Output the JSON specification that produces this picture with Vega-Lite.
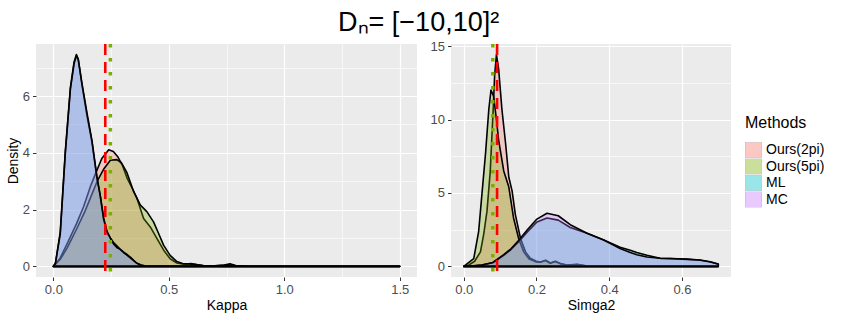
{
  "$schema": "https://vega.github.io/schema/vega-lite/v6.json",
  "background": "white",
  "padding": {"left": 6, "top": 9, "right": 5, "bottom": 4},
  "title": {"text": "Dₙ= [−10,10]²", "fontSize": 27, "font": "Liberation Sans", "fontWeight": "normal", "color": "black", "anchor": "middle", "offset": 3, "dx": 3},
  "config": {
    "font": "Liberation Sans",
    "view": {"fill": "#EBEBEB", "stroke": null},
    "concat": {"spacing": 13},
    "axis": {
      "domain": false,
      "grid": true,
      "gridColor": "white",
      "tickColor": "#333333",
      "tickSize": 3.5,
      "tickWidth": 1,
      "labelColor": "#4D4D4D",
      "labelFontSize": 13,
      "labelFont": "Liberation Sans",
      "labelPadding": 3,
      "titleFont": "Liberation Sans",
      "titleFontSize": 14,
      "titleFontWeight": "normal",
      "titleColor": "black",
      "titlePadding": 2
    },
    "legend": {
      "titleFontSize": 16,
      "titleFontWeight": "normal",
      "titleFont": "Liberation Sans",
      "titleColor": "black",
      "labelFontSize": 14,
      "labelFont": "Liberation Sans",
      "labelColor": "black",
      "symbolType": "square",
      "symbolSize": 256,
      "symbolStrokeColor": "#7a7a7a",
      "symbolStrokeWidth": 1,
      "symbolOpacity": 0.4,
      "rowPadding": 0.5,
      "clipHeight": 16,
      "titlePadding": 11
    }
  },
  "datasets": {
    "dens": [
      {"p":"Kappa","m":"Ours(2pi)","x":0,"y":0},
      {"p":"Kappa","m":"Ours(2pi)","x":0.016,"y":0.15},
      {"p":"Kappa","m":"Ours(2pi)","x":0.03,"y":0.3},
      {"p":"Kappa","m":"Ours(2pi)","x":0.06,"y":0.8},
      {"p":"Kappa","m":"Ours(2pi)","x":0.1,"y":1.5},
      {"p":"Kappa","m":"Ours(2pi)","x":0.131,"y":2.1},
      {"p":"Kappa","m":"Ours(2pi)","x":0.16,"y":2.8},
      {"p":"Kappa","m":"Ours(2pi)","x":0.182,"y":3.25},
      {"p":"Kappa","m":"Ours(2pi)","x":0.21,"y":3.8},
      {"p":"Kappa","m":"Ours(2pi)","x":0.24,"y":4.11},
      {"p":"Kappa","m":"Ours(2pi)","x":0.26,"y":4.05},
      {"p":"Kappa","m":"Ours(2pi)","x":0.28,"y":3.85},
      {"p":"Kappa","m":"Ours(2pi)","x":0.3,"y":3.55},
      {"p":"Kappa","m":"Ours(2pi)","x":0.32,"y":3.1},
      {"p":"Kappa","m":"Ours(2pi)","x":0.345,"y":2.7},
      {"p":"Kappa","m":"Ours(2pi)","x":0.362,"y":2.4},
      {"p":"Kappa","m":"Ours(2pi)","x":0.391,"y":1.69},
      {"p":"Kappa","m":"Ours(2pi)","x":0.42,"y":1.39},
      {"p":"Kappa","m":"Ours(2pi)","x":0.449,"y":0.98},
      {"p":"Kappa","m":"Ours(2pi)","x":0.478,"y":0.57},
      {"p":"Kappa","m":"Ours(2pi)","x":0.506,"y":0.27},
      {"p":"Kappa","m":"Ours(2pi)","x":0.535,"y":0.12},
      {"p":"Kappa","m":"Ours(2pi)","x":0.57,"y":0.07},
      {"p":"Kappa","m":"Ours(2pi)","x":0.595,"y":0.1},
      {"p":"Kappa","m":"Ours(2pi)","x":0.65,"y":0.02},
      {"p":"Kappa","m":"Ours(2pi)","x":0.7,"y":0.02},
      {"p":"Kappa","m":"Ours(2pi)","x":0.74,"y":0.05},
      {"p":"Kappa","m":"Ours(2pi)","x":0.765,"y":0.09},
      {"p":"Kappa","m":"Ours(2pi)","x":0.79,"y":0.03},
      {"p":"Kappa","m":"Ours(2pi)","x":0.85,"y":0},
      {"p":"Kappa","m":"Ours(2pi)","x":1.5,"y":0},

      {"p":"Kappa","m":"Ours(5pi)","x":0,"y":0},
      {"p":"Kappa","m":"Ours(5pi)","x":0.03,"y":0.25},
      {"p":"Kappa","m":"Ours(5pi)","x":0.06,"y":0.65},
      {"p":"Kappa","m":"Ours(5pi)","x":0.1,"y":1.3},
      {"p":"Kappa","m":"Ours(5pi)","x":0.135,"y":1.9},
      {"p":"Kappa","m":"Ours(5pi)","x":0.17,"y":2.6},
      {"p":"Kappa","m":"Ours(5pi)","x":0.19,"y":3.0},
      {"p":"Kappa","m":"Ours(5pi)","x":0.22,"y":3.45},
      {"p":"Kappa","m":"Ours(5pi)","x":0.247,"y":3.74},
      {"p":"Kappa","m":"Ours(5pi)","x":0.275,"y":3.76},
      {"p":"Kappa","m":"Ours(5pi)","x":0.295,"y":3.65},
      {"p":"Kappa","m":"Ours(5pi)","x":0.319,"y":3.3},
      {"p":"Kappa","m":"Ours(5pi)","x":0.348,"y":2.63},
      {"p":"Kappa","m":"Ours(5pi)","x":0.377,"y":2.16},
      {"p":"Kappa","m":"Ours(5pi)","x":0.405,"y":1.93},
      {"p":"Kappa","m":"Ours(5pi)","x":0.434,"y":1.57},
      {"p":"Kappa","m":"Ours(5pi)","x":0.456,"y":1.16},
      {"p":"Kappa","m":"Ours(5pi)","x":0.478,"y":0.74},
      {"p":"Kappa","m":"Ours(5pi)","x":0.506,"y":0.39},
      {"p":"Kappa","m":"Ours(5pi)","x":0.535,"y":0.17},
      {"p":"Kappa","m":"Ours(5pi)","x":0.56,"y":0.1},
      {"p":"Kappa","m":"Ours(5pi)","x":0.6,"y":0.08},
      {"p":"Kappa","m":"Ours(5pi)","x":0.65,"y":0.03},
      {"p":"Kappa","m":"Ours(5pi)","x":0.7,"y":0.02},
      {"p":"Kappa","m":"Ours(5pi)","x":0.76,"y":0.05},
      {"p":"Kappa","m":"Ours(5pi)","x":0.8,"y":0.01},
      {"p":"Kappa","m":"Ours(5pi)","x":0.85,"y":0},
      {"p":"Kappa","m":"Ours(5pi)","x":1.5,"y":0},

      {"p":"Kappa","m":"ML","x":0,"y":0},
      {"p":"Kappa","m":"ML","x":0.009,"y":0.1},
      {"p":"Kappa","m":"ML","x":0.03,"y":1.2},
      {"p":"Kappa","m":"ML","x":0.052,"y":4.05},
      {"p":"Kappa","m":"ML","x":0.074,"y":6.3},
      {"p":"Kappa","m":"ML","x":0.09,"y":7.2},
      {"p":"Kappa","m":"ML","x":0.1,"y":7.46},
      {"p":"Kappa","m":"ML","x":0.108,"y":7.3},
      {"p":"Kappa","m":"ML","x":0.124,"y":6.4},
      {"p":"Kappa","m":"ML","x":0.146,"y":5.3},
      {"p":"Kappa","m":"ML","x":0.167,"y":4.4},
      {"p":"Kappa","m":"ML","x":0.189,"y":3.1},
      {"p":"Kappa","m":"ML","x":0.203,"y":2.5},
      {"p":"Kappa","m":"ML","x":0.218,"y":1.65},
      {"p":"Kappa","m":"ML","x":0.232,"y":1.2},
      {"p":"Kappa","m":"ML","x":0.247,"y":1.0},
      {"p":"Kappa","m":"ML","x":0.26,"y":0.85},
      {"p":"Kappa","m":"ML","x":0.276,"y":0.72},
      {"p":"Kappa","m":"ML","x":0.29,"y":0.6},
      {"p":"Kappa","m":"ML","x":0.305,"y":0.5},
      {"p":"Kappa","m":"ML","x":0.319,"y":0.42},
      {"p":"Kappa","m":"ML","x":0.34,"y":0.28},
      {"p":"Kappa","m":"ML","x":0.36,"y":0.12},
      {"p":"Kappa","m":"ML","x":0.38,"y":0.05},
      {"p":"Kappa","m":"ML","x":0.4,"y":0.01},
      {"p":"Kappa","m":"ML","x":0.45,"y":0},
      {"p":"Kappa","m":"ML","x":1.5,"y":0},

      {"p":"Kappa","m":"MC","x":0,"y":0},
      {"p":"Kappa","m":"MC","x":0.009,"y":0.1},
      {"p":"Kappa","m":"MC","x":0.03,"y":1.15},
      {"p":"Kappa","m":"MC","x":0.052,"y":4.0},
      {"p":"Kappa","m":"MC","x":0.074,"y":6.25},
      {"p":"Kappa","m":"MC","x":0.09,"y":7.15},
      {"p":"Kappa","m":"MC","x":0.1,"y":7.42},
      {"p":"Kappa","m":"MC","x":0.108,"y":7.28},
      {"p":"Kappa","m":"MC","x":0.124,"y":6.45},
      {"p":"Kappa","m":"MC","x":0.146,"y":5.4},
      {"p":"Kappa","m":"MC","x":0.167,"y":4.45},
      {"p":"Kappa","m":"MC","x":0.189,"y":3.15},
      {"p":"Kappa","m":"MC","x":0.203,"y":2.5},
      {"p":"Kappa","m":"MC","x":0.218,"y":1.7},
      {"p":"Kappa","m":"MC","x":0.232,"y":1.25},
      {"p":"Kappa","m":"MC","x":0.247,"y":1.0},
      {"p":"Kappa","m":"MC","x":0.26,"y":0.8},
      {"p":"Kappa","m":"MC","x":0.276,"y":0.66},
      {"p":"Kappa","m":"MC","x":0.29,"y":0.6},
      {"p":"Kappa","m":"MC","x":0.305,"y":0.48},
      {"p":"Kappa","m":"MC","x":0.319,"y":0.4},
      {"p":"Kappa","m":"MC","x":0.34,"y":0.26},
      {"p":"Kappa","m":"MC","x":0.36,"y":0.12},
      {"p":"Kappa","m":"MC","x":0.38,"y":0.04},
      {"p":"Kappa","m":"MC","x":0.4,"y":0.01},
      {"p":"Kappa","m":"MC","x":0.45,"y":0},
      {"p":"Kappa","m":"MC","x":1.5,"y":0},

      {"p":"Simga2","m":"Ours(2pi)","x":0,"y":0},
      {"p":"Simga2","m":"Ours(2pi)","x":0.014,"y":0.1},
      {"p":"Simga2","m":"Ours(2pi)","x":0.03,"y":0.35},
      {"p":"Simga2","m":"Ours(2pi)","x":0.046,"y":0.99},
      {"p":"Simga2","m":"Ours(2pi)","x":0.055,"y":2.2},
      {"p":"Simga2","m":"Ours(2pi)","x":0.064,"y":3.76},
      {"p":"Simga2","m":"Ours(2pi)","x":0.073,"y":6.5},
      {"p":"Simga2","m":"Ours(2pi)","x":0.081,"y":10.7},
      {"p":"Simga2","m":"Ours(2pi)","x":0.085,"y":13.0},
      {"p":"Simga2","m":"Ours(2pi)","x":0.09,"y":14.42},
      {"p":"Simga2","m":"Ours(2pi)","x":0.096,"y":13.45},
      {"p":"Simga2","m":"Ours(2pi)","x":0.105,"y":10.7},
      {"p":"Simga2","m":"Ours(2pi)","x":0.115,"y":8.4},
      {"p":"Simga2","m":"Ours(2pi)","x":0.124,"y":6.07},
      {"p":"Simga2","m":"Ours(2pi)","x":0.133,"y":5.14},
      {"p":"Simga2","m":"Ours(2pi)","x":0.142,"y":3.53},
      {"p":"Simga2","m":"Ours(2pi)","x":0.156,"y":1.92},
      {"p":"Simga2","m":"Ours(2pi)","x":0.17,"y":0.99},
      {"p":"Simga2","m":"Ours(2pi)","x":0.183,"y":0.55},
      {"p":"Simga2","m":"Ours(2pi)","x":0.2,"y":0.35},
      {"p":"Simga2","m":"Ours(2pi)","x":0.211,"y":0.3},
      {"p":"Simga2","m":"Ours(2pi)","x":0.225,"y":0.42},
      {"p":"Simga2","m":"Ours(2pi)","x":0.238,"y":0.23},
      {"p":"Simga2","m":"Ours(2pi)","x":0.252,"y":0.35},
      {"p":"Simga2","m":"Ours(2pi)","x":0.266,"y":0.19},
      {"p":"Simga2","m":"Ours(2pi)","x":0.284,"y":0.09},
      {"p":"Simga2","m":"Ours(2pi)","x":0.312,"y":0.14},
      {"p":"Simga2","m":"Ours(2pi)","x":0.339,"y":0.02},
      {"p":"Simga2","m":"Ours(2pi)","x":0.36,"y":0},
      {"p":"Simga2","m":"Ours(2pi)","x":0.7,"y":0},

      {"p":"Simga2","m":"Ours(5pi)","x":0,"y":0},
      {"p":"Simga2","m":"Ours(5pi)","x":0.0275,"y":0.53},
      {"p":"Simga2","m":"Ours(5pi)","x":0.041,"y":2.37},
      {"p":"Simga2","m":"Ours(5pi)","x":0.05,"y":4.9},
      {"p":"Simga2","m":"Ours(5pi)","x":0.06,"y":7.7},
      {"p":"Simga2","m":"Ours(5pi)","x":0.069,"y":10.7},
      {"p":"Simga2","m":"Ours(5pi)","x":0.075,"y":12.0},
      {"p":"Simga2","m":"Ours(5pi)","x":0.082,"y":11.6},
      {"p":"Simga2","m":"Ours(5pi)","x":0.09,"y":10.0},
      {"p":"Simga2","m":"Ours(5pi)","x":0.096,"y":8.6},
      {"p":"Simga2","m":"Ours(5pi)","x":0.11,"y":6.5},
      {"p":"Simga2","m":"Ours(5pi)","x":0.124,"y":5.4},
      {"p":"Simga2","m":"Ours(5pi)","x":0.137,"y":3.3},
      {"p":"Simga2","m":"Ours(5pi)","x":0.151,"y":1.9},
      {"p":"Simga2","m":"Ours(5pi)","x":0.165,"y":0.99},
      {"p":"Simga2","m":"Ours(5pi)","x":0.18,"y":0.5},
      {"p":"Simga2","m":"Ours(5pi)","x":0.2,"y":0.3},
      {"p":"Simga2","m":"Ours(5pi)","x":0.211,"y":0.28},
      {"p":"Simga2","m":"Ours(5pi)","x":0.225,"y":0.4},
      {"p":"Simga2","m":"Ours(5pi)","x":0.238,"y":0.22},
      {"p":"Simga2","m":"Ours(5pi)","x":0.252,"y":0.33},
      {"p":"Simga2","m":"Ours(5pi)","x":0.266,"y":0.18},
      {"p":"Simga2","m":"Ours(5pi)","x":0.284,"y":0.08},
      {"p":"Simga2","m":"Ours(5pi)","x":0.312,"y":0.12},
      {"p":"Simga2","m":"Ours(5pi)","x":0.339,"y":0.02},
      {"p":"Simga2","m":"Ours(5pi)","x":0.36,"y":0},
      {"p":"Simga2","m":"Ours(5pi)","x":0.7,"y":0},

      {"p":"Simga2","m":"ML","x":0,"y":0},
      {"p":"Simga2","m":"ML","x":0.02,"y":0.02},
      {"p":"Simga2","m":"ML","x":0.05,"y":0.1},
      {"p":"Simga2","m":"ML","x":0.08,"y":0.25},
      {"p":"Simga2","m":"ML","x":0.11,"y":0.75},
      {"p":"Simga2","m":"ML","x":0.13,"y":1.15},
      {"p":"Simga2","m":"ML","x":0.15,"y":1.65},
      {"p":"Simga2","m":"ML","x":0.175,"y":2.35},
      {"p":"Simga2","m":"ML","x":0.2,"y":3.0},
      {"p":"Simga2","m":"ML","x":0.229,"y":3.3},
      {"p":"Simga2","m":"ML","x":0.26,"y":3.15},
      {"p":"Simga2","m":"ML","x":0.293,"y":2.65},
      {"p":"Simga2","m":"ML","x":0.339,"y":2.26},
      {"p":"Simga2","m":"ML","x":0.385,"y":1.8},
      {"p":"Simga2","m":"ML","x":0.43,"y":1.3},
      {"p":"Simga2","m":"ML","x":0.458,"y":1.1},
      {"p":"Simga2","m":"ML","x":0.476,"y":0.95},
      {"p":"Simga2","m":"ML","x":0.504,"y":0.76},
      {"p":"Simga2","m":"ML","x":0.54,"y":0.55},
      {"p":"Simga2","m":"ML","x":0.568,"y":0.53},
      {"p":"Simga2","m":"ML","x":0.614,"y":0.48},
      {"p":"Simga2","m":"ML","x":0.65,"y":0.42},
      {"p":"Simga2","m":"ML","x":0.678,"y":0.3},
      {"p":"Simga2","m":"ML","x":0.7,"y":0.15},

      {"p":"Simga2","m":"MC","x":0,"y":0},
      {"p":"Simga2","m":"MC","x":0.02,"y":0.02},
      {"p":"Simga2","m":"MC","x":0.05,"y":0.1},
      {"p":"Simga2","m":"MC","x":0.08,"y":0.27},
      {"p":"Simga2","m":"MC","x":0.11,"y":0.8},
      {"p":"Simga2","m":"MC","x":0.13,"y":1.2},
      {"p":"Simga2","m":"MC","x":0.15,"y":1.75},
      {"p":"Simga2","m":"MC","x":0.175,"y":2.5},
      {"p":"Simga2","m":"MC","x":0.2,"y":3.2},
      {"p":"Simga2","m":"MC","x":0.229,"y":3.62},
      {"p":"Simga2","m":"MC","x":0.26,"y":3.45},
      {"p":"Simga2","m":"MC","x":0.293,"y":2.84},
      {"p":"Simga2","m":"MC","x":0.339,"y":2.26},
      {"p":"Simga2","m":"MC","x":0.385,"y":1.8},
      {"p":"Simga2","m":"MC","x":0.43,"y":1.22},
      {"p":"Simga2","m":"MC","x":0.458,"y":0.95},
      {"p":"Simga2","m":"MC","x":0.476,"y":0.8},
      {"p":"Simga2","m":"MC","x":0.504,"y":0.64},
      {"p":"Simga2","m":"MC","x":0.54,"y":0.56},
      {"p":"Simga2","m":"MC","x":0.568,"y":0.54},
      {"p":"Simga2","m":"MC","x":0.614,"y":0.5},
      {"p":"Simga2","m":"MC","x":0.65,"y":0.44},
      {"p":"Simga2","m":"MC","x":0.678,"y":0.32},
      {"p":"Simga2","m":"MC","x":0.7,"y":0.17}
    ],
    "vlines": [
      {"p":"Kappa","t":"red","x":0.225},
      {"p":"Kappa","t":"green","x":0.247},
      {"p":"Simga2","t":"red","x":0.0917},
      {"p":"Simga2","t":"green","x":0.08}
    ]
  },
  "hconcat": [
    {
      "width": 381,
      "height": 233,
      "layer": [
        {
          "data": {"name": "dens"},
          "transform": [{"filter": "datum.p === 'Kappa'"}],
          "mark": {"type": "area", "fillOpacity": 0.3, "stroke": "black", "strokeWidth": 1.6, "strokeJoin": "round"},
          "encoding": {
            "x": {"field": "x", "type": "quantitative", "title": "Kappa",
              "scale": {"domain": [-0.075, 1.575], "nice": false, "zero": false},
              "axis": {"values": [0, 0.25, 0.5, 0.75, 1, 1.25, 1.5], "format": ".1f",
                "labelExpr": "(datum.value*2) % 1 === 0 ? datum.label : ''",
                "gridWidth": {"condition": {"test": "(datum.value*2) % 1 === 0", "value": 1.2}, "value": 0.6},
                "tickOpacity": {"condition": {"test": "(datum.value*2) % 1 === 0", "value": 1}, "value": 0}}},
            "y": {"field": "y", "type": "quantitative", "title": "Density", "stack": null,
              "scale": {"domain": [-0.373, 7.833], "nice": false, "zero": false},
              "axis": {"values": [0, 1, 2, 3, 4, 5, 6, 7], "format": "d",
                "labelExpr": "datum.value % 2 === 0 ? datum.label : ''",
                "gridWidth": {"condition": {"test": "datum.value % 2 === 0", "value": 1.2}, "value": 0.6},
                "tickOpacity": {"condition": {"test": "datum.value % 2 === 0", "value": 1}, "value": 0}}},
            "fill": {"field": "m", "type": "nominal", "title": "Methods",
              "scale": {"domain": ["Ours(2pi)", "Ours(5pi)", "ML", "MC"], "range": ["#F8766D", "#7CAE00", "#00BFC4", "#C77CFF"]},
              "legend": {"orient": "none", "legendX": 709, "legendY": 71}}
          }
        },
        {
          "data": {"name": "vlines"},
          "transform": [{"filter": "datum.p === 'Kappa' && datum.t === 'red'"}],
          "mark": {"type": "rule", "color": "#FF0000", "strokeWidth": 2.6, "strokeDash": [11, 7]},
          "encoding": {"x": {"field": "x", "type": "quantitative"}}
        },
        {
          "data": {"name": "vlines"},
          "transform": [{"filter": "datum.p === 'Kappa' && datum.t === 'green'"}],
          "mark": {"type": "rule", "color": "#7CAE00", "strokeWidth": 3.5, "strokeDash": [3.5, 10.5]},
          "encoding": {"x": {"field": "x", "type": "quantitative"}}
        }
      ]
    },
    {
      "width": 280,
      "height": 233,
      "layer": [
        {
          "data": {"name": "dens"},
          "transform": [{"filter": "datum.p === 'Simga2'"}],
          "mark": {"type": "area", "fillOpacity": 0.3, "stroke": "black", "strokeWidth": 1.6, "strokeJoin": "round"},
          "encoding": {
            "x": {"field": "x", "type": "quantitative", "title": "Simga2",
              "scale": {"domain": [-0.035, 0.735], "nice": false, "zero": false},
              "axis": {"values": [0, 0.1, 0.2, 0.3, 0.4, 0.5, 0.6, 0.7], "format": ".1f",
                "labelExpr": "round(datum.value*10) % 2 === 0 ? datum.label : ''",
                "gridWidth": {"condition": {"test": "round(datum.value*10) % 2 === 0", "value": 1.2}, "value": 0.6},
                "tickOpacity": {"condition": {"test": "round(datum.value*10) % 2 === 0", "value": 1}, "value": 0}}},
            "y": {"field": "y", "type": "quantitative", "title": null, "stack": null,
              "scale": {"domain": [-0.72, 15.14], "nice": false, "zero": false},
              "axis": {"values": [0, 2.5, 5, 7.5, 10, 12.5, 15], "format": "d",
                "labelExpr": "datum.value % 5 === 0 ? datum.label : ''",
                "gridWidth": {"condition": {"test": "datum.value % 5 === 0", "value": 1.2}, "value": 0.6},
                "tickOpacity": {"condition": {"test": "datum.value % 5 === 0", "value": 1}, "value": 0}}},
            "fill": {"field": "m", "type": "nominal", "title": "Methods",
              "scale": {"domain": ["Ours(2pi)", "Ours(5pi)", "ML", "MC"], "range": ["#F8766D", "#7CAE00", "#00BFC4", "#C77CFF"]}}
          }
        },
        {
          "data": {"name": "vlines"},
          "transform": [{"filter": "datum.p === 'Simga2' && datum.t === 'red'"}],
          "mark": {"type": "rule", "color": "#FF0000", "strokeWidth": 2.6, "strokeDash": [11, 7]},
          "encoding": {"x": {"field": "x", "type": "quantitative"}}
        },
        {
          "data": {"name": "vlines"},
          "transform": [{"filter": "datum.p === 'Simga2' && datum.t === 'green'"}],
          "mark": {"type": "rule", "color": "#7CAE00", "strokeWidth": 3.5, "strokeDash": [3.5, 10.5]},
          "encoding": {"x": {"field": "x", "type": "quantitative"}}
        }
      ]
    }
  ],
  "resolve": {"scale": {"fill": "shared"}}
}
